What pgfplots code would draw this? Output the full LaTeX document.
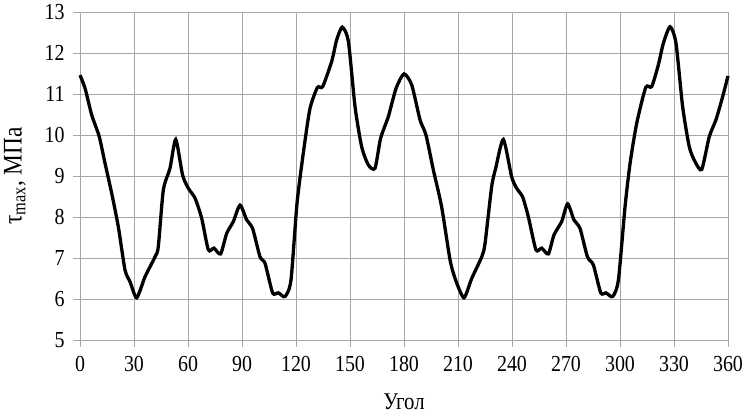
\documentclass[border=0pt]{standalone}
\usepackage{fontspec}
\setmainfont{Liberation Serif}
\newfontfamily\chartfont[FakeStretch=0.87]{Liberation Serif}
\usepackage{pgfplots}
\pgfplotsset{compat=1.18}
\usepackage{pgfplotstable}

\pgfplotstableread{
ang tau
0 11.46
2.8 11.14
6.5 10.49
10.7 9.96
13.9 9.31
17.6 8.58
21.3 7.76
25 6.71
27.8 6.42
31.5 6.03
36.1 6.54
41.7 7.03
43.5 7.28
46.3 8.66
50 9.19
53.2 9.89
57 9.02
60.2 8.70
63.9 8.46
67.6 7.97
71.3 7.20
74.4 7.24
78.1 7.10
81.5 7.60
85.2 7.89
88.9 8.29
92.6 7.93
95.9 7.72
100 7.03
102.8 6.87
107 6.15
110.2 6.15
113.9 6.06
117.2 6.46
120.6 8.35
124.5 9.70
127.8 10.65
131.9 11.16
134.8 11.18
139.8 11.79
142.6 12.32
145.7 12.63
149.1 12.28
152.8 10.69
156.5 9.71
160.2 9.27
163.9 9.19
167 9.92
171.3 10.45
175.6 11.14
180 11.49
184.3 11.22
188.9 10.37
192.2 10.00
196.3 9.15
200.9 8.25
205.6 6.95
208.7 6.46
213.3 6.03
217.6 6.50
223.2 7.03
225 7.35
228.7 8.74
231 9.20
235.2 9.89
239.8 8.98
242.6 8.70
245.9 8.49
249.1 8.00
253.3 7.20
256.5 7.24
260.2 7.10
263.3 7.56
267.6 7.89
270.9 8.32
274.4 7.93
277.8 7.72
281.9 7.03
285.2 6.83
289.3 6.15
292.2 6.15
295.9 6.06
299.1 6.46
302.8 8.25
305.6 9.31
309.3 10.29
314.3 11.16
317.6 11.18
321.3 11.71
324.1 12.24
327.8 12.64
331.1 12.24
334.8 10.69
338.5 9.71
341.7 9.35
345.4 9.16
349.6 9.96
353.3 10.37
357 10.93
360 11.44
}\tauvals

\begin{document}
\begin{tikzpicture}
\begin{axis}[
    scale only axis,
    width=648bp, height=328bp,
    xmin=0, xmax=360, ymin=5, ymax=13,
    xtick={0,30,...,360}, ytick={5,6,...,13},
    grid=major,
    major grid style={draw=black!35, line width=0.9bp},
    axis line style={draw=black!35, line width=0.9bp},
    tick style={draw=black!35, line width=0.9bp},
    tick align=outside, major tick length=7bp,
    xtick pos=bottom, ytick pos=left,
    tick label style={font=\chartfont\fontsize{23}{26}\selectfont},
    xticklabel style={yshift=-6bp},
    yticklabel style={xshift=-5bp},
    /pgf/number format/assume math mode=true,
    xlabel={Угол},
    ylabel={τ\textsubscript{max}, МПа},
    xlabel style={font=\chartfont\fontsize{24}{28}\selectfont,
        at={(axis description cs:0.5,0)}, anchor=base, yshift=-69bp},
    ylabel style={font=\chartfont\fontsize{27}{30}\selectfont,
        at={(axis description cs:0,0.5)}, anchor=center, yshift=65bp},
    clip=false,
]
\addplot[black, line width=3.3bp, smooth, tension=0.4] table[x=ang, y=tau] {\tauvals};
\end{axis}
\pgfresetboundingbox
\path[use as bounding box] (-80bp,-75bp) rectangle (664bp,340bp);
\end{tikzpicture}
\end{document}
